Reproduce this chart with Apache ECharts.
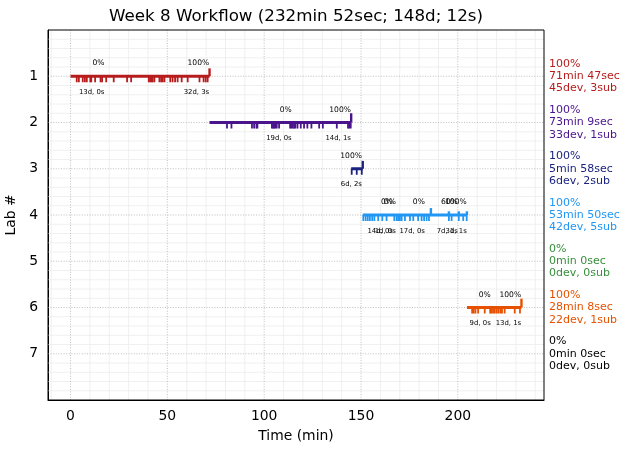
<!DOCTYPE html>
<html><head><meta charset="utf-8">
<script src="https://cdn.jsdelivr.net/npm/echarts@6/dist/echarts.min.js"></script>
<style>html,body{margin:0;padding:0;background:#fff}#c{width:630px;height:453px}</style>
</head><body><div id="c"></div>
<script>
const FONT = 'DejaVu Sans';
const titleText = 'Week 8 Workflow (232min 52sec; 148d; 12s)';
const xName = 'Time (min)';
const yName = 'Lab #';

const labs = [1, 2, 3, 4, 5, 6, 7];
const labColors = ['#b71c1c', '#4a148c', '#1a237e', '#2196f3', '#388e3c', '#e65100', '#000000'];
const labStart = [0, 71.78, 144.93, 150.9, null, 204.73, null];
const labEnd = [71.78, 144.93, 150.9, 204.73, null, 232.87, null];
const labPct = ['100%', '100%', '100%', '100%', '0%', '100%', '0%'];
const labDur = ['71min 47sec', '73min 9sec', '5min 58sec', '53min 50sec', '0min 0sec', '28min 8sec', '0min 0sec'];
const labDevSub = ['45dev, 3sub', '33dev, 1sub', '6dev, 2sub', '42dev, 5sub', '0dev, 0sub', '22dev, 1sub', '0dev, 0sub'];

const lab1Dev = [3.2, 4.3, 6.3, 7.4, 8.4, 10.2, 10.7, 12.7, 15.5, 16.3, 18.4, 22.3, 29.2, 31.3, 40.4, 41.1, 41.8, 42.4, 43.3, 45.9, 46.8, 47.6, 48.5, 51.5, 52.7, 54.0, 55.3, 57.4, 60.5, 66.6, 68.7, 69.8, 70.8];
const lab2Dev = [80.8, 83.1, 93.7, 94.8, 96.0, 96.5, 104.0, 104.6, 105.2, 105.7, 106.5, 107.7, 113.4, 114.1, 114.8, 115.5, 116.1, 117.2, 118.9, 120.6, 122.3, 124.4, 128.4, 130.3, 137.5, 143.3, 143.9, 144.7];
const lab3Dev = [145.2, 147.8, 150.4];
const lab4Dev = [151.2, 152.4, 153.5, 154.6, 155.8, 156.9, 158.9, 161.0, 163.2, 167.2, 168.4, 169.2, 170.1, 171.0, 172.7, 175.3, 177.0, 179.5, 181.3, 182.6, 183.9, 185.1, 195.4, 196.8, 200.5, 202.8, 204.6];
const lab6Dev = [207.4, 208.2, 209.1, 210.5, 213.9, 216.7, 217.4, 218.2, 219.1, 220.1, 221.0, 222.0, 222.8, 224.2, 229.4, 232.1];
const devTimes = [lab1Dev, lab2Dev, lab3Dev, lab4Dev, [], lab6Dev, []];

const lab1Sub = [71.78];
const lab2Sub = [144.93];
const lab3Sub = [150.9];
const lab4Sub = [186.1, 195.4, 200.5, 204.7];
const lab6Sub = [232.87];
const subTimes = [lab1Sub, lab2Sub, lab3Sub, lab4Sub, [], lab6Sub, []];
const lab1SubH = [0.17];
const lab2SubH = [0.2];
const lab3SubH = [0.17];
const lab4SubH = [0.15, 0.08, 0.08, 0.08];
const lab6SubH = [0.19];
const subHeights = [lab1SubH, lab2SubH, lab3SubH, lab4SubH, [], lab6SubH, []];

const annLab = [1, 1, 2, 2, 3, 4, 4, 4, 4, 4, 6, 6];
const annTime = [17.5, 71.6, 114.2, 144.8, 150.5, 166.5, 168.0, 183.0, 200.0, 204.6, 217.0, 232.7];
const annPct = ['0%', '100%', '0%', '100%', '100%', '0%', '0%', '0%', '60%', '100%', '0%', '100%'];
const annDev = ['13d, 0s', '32d, 3s', '19d, 0s', '14d, 1s', '6d, 2s', '14d, 0s', '1d, 0s', '17d, 0s', '7d, 1s', '3d, 1s', '9d, 0s', '13d, 1s'];

const xTickValues = [0, 50, 100, 150, 200];
const xTickLabels = ['0', '50', '100', '150', '200'];
const xMinorValues = [-10, 10, 20, 30, 40, 60, 70, 80, 90, 110, 120, 130, 140, 160, 170, 180, 190, 210, 220, 230, 240];
const yTickValues = [1, 2, 3, 4, 5, 6, 7];
const yTickLabels = ['1', '2', '3', '4', '5', '6', '7'];
const yMinorValues = [0.2, 0.4, 0.6, 0.8, 1.2, 1.4, 1.6, 1.8, 2.2, 2.4, 2.6, 2.8, 3.2, 3.4, 3.6, 3.8, 4.2, 4.4, 4.6, 4.8, 5.2, 5.4, 5.6, 5.8, 6.2, 6.4, 6.6, 6.8, 7.2, 7.4, 7.6, 7.8];
const xMin = -11.64, xMax = 244.51, yMin = 0, yMax = 8;

const chart = echarts.init(document.getElementById('c'), null, {renderer: 'canvas'});

function vGrid(values, stroke, dash, z) {
  return {
    type: 'custom', z: z, silent: true, clip: false,
    data: values.map(v => [v, yMin]),
    renderItem: (p, api) => {
      const a = api.coord([api.value(0), yMin]);
      const b = api.coord([api.value(0), yMax]);
      return {type: 'line', shape: {x1: a[0], y1: a[1], x2: b[0], y2: b[1]},
        style: {stroke: stroke, lineWidth: 0.8, lineDash: dash}};
    }
  };
}
function hGrid(values, stroke, dash, z) {
  return {
    type: 'custom', z: z, silent: true, clip: false,
    data: values.map(v => [xMin, v]),
    renderItem: (p, api) => {
      const a = api.coord([xMin, api.value(1)]);
      const b = api.coord([xMax, api.value(1)]);
      return {type: 'line', shape: {x1: a[0], y1: a[1], x2: b[0], y2: b[1]},
        style: {stroke: stroke, lineWidth: 0.8, lineDash: dash}};
    }
  };
}

const segData = [], devData = [], subData = [];
labs.forEach((lab, i) => {
  if (labStart[i] !== null) segData.push([labStart[i], lab, labEnd[i], i]);
  devTimes[i].forEach(t => devData.push([t, lab, i]));
  subTimes[i].forEach((t, k) => subData.push([t, lab, subHeights[i][k], i]));
});
const annData = annTime.map((t, k) => [t, annLab[k], k]);
const rightData = labs.map((lab, i) => [xMax, lab, i]);

const series = [
  vGrid(xMinorValues, '#ececec', null, 1),
  hGrid(yMinorValues, '#ececec', null, 1),
  vGrid(xTickValues, '#b0b0b0', [1, 1.6], 2),
  hGrid(yTickValues, '#b0b0b0', [1, 1.6], 2),
  {
    type: 'custom', z: 5, clip: false, data: segData,
    renderItem: (p, api) => {
      const a = api.coord([api.value(0), api.value(1)]);
      const b = api.coord([api.value(2), api.value(1)]);
      return {type: 'line', shape: {x1: a[0], y1: a[1], x2: b[0], y2: b[1]},
        style: {stroke: labColors[api.value(3)], lineWidth: 3}};
    }
  },
  {
    type: 'custom', z: 6, clip: false, data: devData,
    renderItem: (p, api) => {
      const a = api.coord([api.value(0), api.value(1)]);
      const b = api.coord([api.value(0), api.value(1) + 0.13]);
      return {type: 'line', shape: {x1: a[0], y1: a[1], x2: b[0], y2: b[1]},
        style: {stroke: labColors[api.value(2)], lineWidth: 1.8}};
    }
  },
  {
    type: 'custom', z: 6, clip: false, data: subData,
    renderItem: (p, api) => {
      const a = api.coord([api.value(0), api.value(1)]);
      const b = api.coord([api.value(0), api.value(1) - api.value(2)]);
      return {type: 'line', shape: {x1: a[0], y1: a[1], x2: b[0], y2: b[1]},
        style: {stroke: labColors[api.value(3)], lineWidth: 2.4}};
    }
  },
  {
    type: 'custom', z: 7, clip: false, data: annData,
    renderItem: (p, api) => {
      const k = api.value(2);
      const a = api.coord([api.value(0), api.value(1) - 0.28]);
      const b = api.coord([api.value(0), api.value(1) + 0.34]);
      return {type: 'group', children: [
        {type: 'text', x: a[0], y: a[1], style: {text: annPct[k], fill: '#000', fontSize: 7.6, fontFamily: FONT, align: 'right', verticalAlign: 'middle'}},
        {type: 'text', x: b[0], y: b[1], style: {text: annDev[k], fill: '#000', fontSize: 6.9, fontFamily: FONT, align: 'right', verticalAlign: 'middle'}}
      ]};
    }
  },
  {
    type: 'custom', z: 7, clip: false, data: rightData,
    renderItem: (p, api) => {
      const i = api.value(2);
      const a = api.coord([api.value(0), api.value(1)]);
      return {type: 'text', x: a[0] + 5, y: a[1], style: {
        text: labPct[i] + '\n' + labDur[i] + '\n' + labDevSub[i],
        fill: labColors[i], fontSize: 11, lineHeight: 12.2, fontFamily: FONT,
        align: 'left', verticalAlign: 'middle'}};
    }
  }
];

chart.setOption({
  animation: false,
  backgroundColor: '#fff',
  textStyle: {fontFamily: FONT},
  graphic: [{type: 'text', x: 296, y: 17, style: {text: titleText, fontSize: 16.7, fontFamily: FONT, fill: '#000', align: 'center', verticalAlign: 'middle'}}],
  grid: {left: 48, top: 30, width: 496, height: 370, show: true, borderColor: '#000', borderWidth: 1, backgroundColor: 'transparent', z: 10, outerBoundsMode: 'none', containLabel: false},
  xAxis: {
    type: 'value', min: xMin, max: xMax, splitNumber: 5,
    axisLine: {show: true, onZero: false, lineStyle: {color: '#000', width: 1}},
    axisTick: {show: false}, splitLine: {show: false},
    axisLabel: {color: '#000', fontSize: 13.9, fontFamily: FONT, margin: 9,
      formatter: v => { const i = xTickValues.indexOf(Math.round(v * 1000) / 1000); return i >= 0 ? xTickLabels[i] : ''; }},
    name: xName, nameLocation: 'middle', nameGap: 29,
    nameTextStyle: {color: '#000', fontSize: 13.9, fontFamily: FONT}
  },
  yAxis: {
    type: 'value', inverse: true, min: yMin, max: yMax, interval: 1,
    axisLine: {show: true, onZero: false, lineStyle: {color: '#000', width: 1}},
    axisTick: {show: false}, splitLine: {show: false},
    axisLabel: {color: '#000', fontSize: 13.9, fontFamily: FONT, margin: 10,
      formatter: v => { const i = yTickValues.indexOf(Math.round(v * 1000) / 1000); return i >= 0 ? yTickLabels[i] : ''; }},
    name: yName, nameLocation: 'middle', nameGap: 21, nameRotate: 90,
    nameTextStyle: {color: '#000', fontSize: 13.9, fontFamily: FONT}
  },
  series: series
});
</script></body></html>
